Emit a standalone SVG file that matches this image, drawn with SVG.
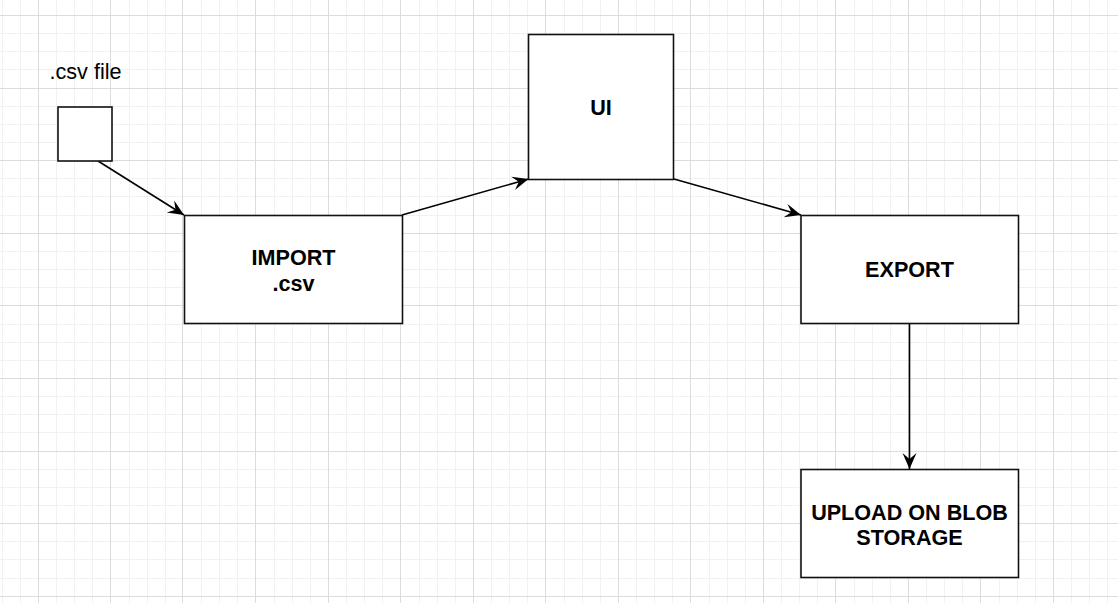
<svg xmlns="http://www.w3.org/2000/svg" width="1118" height="603" viewBox="0 0 1118 603">
  <style>
    .minor { stroke: #f1f1f1; stroke-width: 1; fill: none; }
    .major { stroke: #dcdcdc; stroke-width: 1; fill: none; }
    .box { fill: #ffffff; stroke: #111111; stroke-width: 1.6; }
    .edge { fill: none; stroke: #000000; stroke-width: 1.6; marker-end: url(#arrow); }
    .lbl { font-family: "Liberation Sans", Arial, sans-serif; font-size: 21.6px; fill: #000000; text-anchor: middle; }
    .bold { font-weight: bold; }
  </style>
  <defs>
    <marker id="arrow" markerUnits="userSpaceOnUse" orient="auto" viewBox="-17 -9 18 18" refX="0" refY="0" markerWidth="18" markerHeight="18">
      <path d="M0,0 L-16,-7 L-10,0 L-16,7 Z" fill="#000000"/>
    </marker>
  </defs>
  <rect width="1118" height="603" fill="#ffffff"/>
  <g id="grid">
    <path class="minor" d="M2.5,0V603M20.5,0V603M56.5,0V603M74.5,0V603M92.5,0V603M129.5,0V603M147.5,0V603M165.5,0V603M201.5,0V603M219.5,0V603M237.5,0V603M274.5,0V603M292.5,0V603M310.5,0V603M346.5,0V603M364.5,0V603M382.5,0V603M419.5,0V603M437.5,0V603M455.5,0V603M491.5,0V603M509.5,0V603M527.5,0V603M564.5,0V603M582.5,0V603M600.5,0V603M636.5,0V603M654.5,0V603M672.5,0V603M709.5,0V603M727.5,0V603M745.5,0V603M781.5,0V603M799.5,0V603M817.5,0V603M854.5,0V603M872.5,0V603M890.5,0V603M926.5,0V603M944.5,0V603M962.5,0V603M999.5,0V603M1017.5,0V603M1035.5,0V603M1071.5,0V603M1089.5,0V603M1107.5,0V603
      M0,33.5H1118M0,51.5H1118M0,69.5H1118M0,106.5H1118M0,124.5H1118M0,142.5H1118M0,178.5H1118M0,196.5H1118M0,215.5H1118M0,251.5H1118M0,269.5H1118M0,287.5H1118M0,324.5H1118M0,342.5H1118M0,360.5H1118M0,396.5H1118M0,414.5H1118M0,432.5H1118M0,469.5H1118M0,487.5H1118M0,505.5H1118M0,541.5H1118M0,559.5H1118M0,578.5H1118"/>
    <path class="major" d="M38.5,0V603M110.5,0V603M182.5,0V603M255.5,0V603M328.5,0V603M400.5,0V603M473.5,0V603M545.5,0V603M618.5,0V603M690.5,0V603M763.5,0V603M835.5,0V603M908.5,0V603M980.5,0V603M1053.5,0V603
      M0,15.5H1118M0,88.5H1118M0,160.5H1118M0,233.5H1118M0,305.5H1118M0,378.5H1118M0,451.5H1118M0,523.5H1118M0,596.5H1118"/>
  </g>
  <g id="connectors">
    <path class="edge" d="M98,161 L184,215"/>
    <path class="edge" d="M402,215 L528.5,179"/>
    <path class="edge" d="M674,179 L801,215"/>
    <path class="edge" d="M909.5,324 L909.5,469"/>
  </g>
  <g id="csv-file">
    <rect class="box" x="58" y="107" width="54" height="54"/>
    <text class="lbl" x="85.5" y="79">.csv file</text>
  </g>
  <g id="import">
    <rect class="box" x="184.5" y="215.5" width="218" height="108"/>
    <text class="lbl bold" x="293.5" y="265">IMPORT</text>
    <text class="lbl bold" x="293.5" y="290.5">.csv</text>
  </g>
  <g id="ui">
    <rect class="box" x="528.5" y="34.5" width="145" height="145"/>
    <text class="lbl bold" x="601" y="114.5">UI</text>
  </g>
  <g id="export">
    <rect class="box" x="801" y="215.5" width="217.5" height="108"/>
    <text class="lbl bold" x="909.5" y="277">EXPORT</text>
  </g>
  <g id="upload">
    <rect class="box" x="801" y="469.5" width="217.5" height="108"/>
    <text class="lbl bold" x="909.5" y="520">UPLOAD ON BLOB</text>
    <text class="lbl bold" x="909.5" y="545">STORAGE</text>
  </g>
</svg>
